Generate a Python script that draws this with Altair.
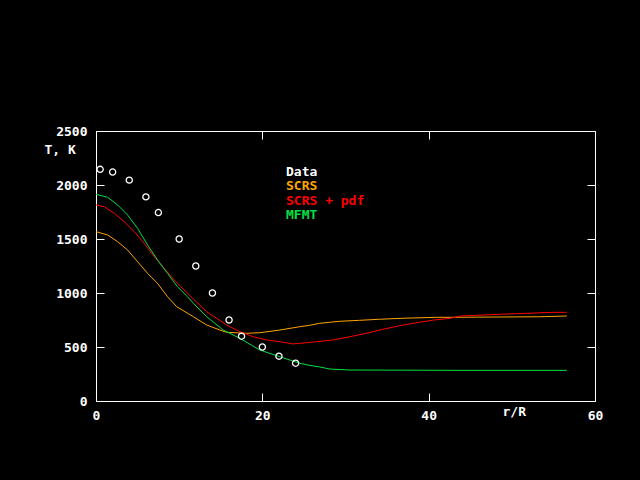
import altair as alt
import pandas as pd
from altair.utils.html import HTML_TEMPLATE

# ---- data ----
data_r = [0.5, 2, 4, 6, 7.5, 10, 12, 14, 16, 17.5, 20, 22, 24]
data_T = [2145, 2120, 2045, 1890, 1745, 1500, 1250, 1000, 750, 600, 500, 415, 350]

scrs_r = [0, 1.4, 2.6, 3.8, 5.0, 6.2, 7.4, 8.6, 9.7, 11.7, 13.3, 14.9, 15.7, 18.1, 19.7,
          22.1, 24.5, 25.7, 26.9, 28.1, 29.3, 31.7, 34.1, 36.9, 41.0, 42.6, 53.4, 56.6]
scrs_T = [1568, 1537, 1475, 1398, 1290, 1182, 1089, 966, 873, 781, 704, 657, 636, 627, 632,
          657, 688, 701, 719, 729, 738, 747, 757, 766, 775, 775, 780, 787]

pdf_r = [0, 1.0, 2.2, 3.4, 4.6, 5.8, 7.0, 8.2, 9.4, 10.6, 11.7, 13.3, 15.7, 17.3, 18.9,
         20.5, 22.1, 23.7, 24.5, 26.5, 28.5, 30.5, 32.5, 34.5, 36.5, 38.6, 40.6, 42.6,
         43.8, 48.6, 51.8, 55.0, 56.6]
pdf_T = [1815, 1799, 1738, 1660, 1568, 1460, 1336, 1229, 1120, 1028, 945, 827, 704, 642, 595,
         565, 549, 528, 534, 549, 565, 595, 627, 664, 697, 725, 750, 766,
         787, 803, 812, 821, 821]

mfmt_r = [0, 1.4, 2.6, 3.8, 5.0, 6.2, 7.4, 8.6, 9.8, 11.0, 11.7, 13.3, 15.3, 17.3, 19.7,
          22.1, 24.5, 25.7, 26.9, 28.1, 30.5, 42.6, 56.6]
mfmt_T = [1914, 1886, 1815, 1722, 1599, 1444, 1305, 1182, 1058, 966, 905, 781, 657, 580, 472,
          410, 349, 330, 315, 296, 287, 284, 284]

models = ["SCRS", "SCRS + pdf", "MFMT"]
model_colors = ["#FFA500", "#FF0000", "#00E040"]
legend_labels = ["Data", "SCRS", "SCRS + pdf", "MFMT"]
legend_colors = ["#FFFFFF", "#FFA500", "#FF0000", "#00E040"]

x_ticks = [0, 20, 40, 60]
y_ticks = [0, 500, 1000, 1500, 2000, 2500]

# ---- tables ----
rows = []
for name, rs, ts in zip(models, [scrs_r, pdf_r, mfmt_r], [scrs_T, pdf_T, mfmt_T]):
    for r, t in zip(rs, ts):
        rows.append({"model": name, "r": r, "T": t})
lines_df = pd.DataFrame(rows)
pts_df = pd.DataFrame({"r": data_r, "T": data_T})

FONT = "DejaVu Sans Mono"
xs = alt.Scale(domain=[0, 60], nice=False)
ys = alt.Scale(domain=[0, 2500], nice=False)

common = dict(domain=False, grid=False, ticks=True, tickSize=8, tickColor="white",
              tickWidth=1, offset=-8, labelColor="white", labelFont=FONT,
              labelFontSize=13, labelFontWeight="bold", titleColor="white",
              titleFont=FONT, titleFontSize=13, titleFontWeight="bold",
              labelFlush=False, labelOverlap=False, format="d")

bottom_axis = alt.Axis(orient="bottom", values=x_ticks, labelPadding=8, title="r/R",
                       titleAngle=0, titleAlign="left", titleBaseline="middle",
                       titleX=406, titleY=18.5, **common)
left_axis = alt.Axis(orient="left", values=y_ticks, labelPadding=9, title="T, K",
                     titleAngle=0, titleAlign="left", titleBaseline="middle",
                     titleX=-60, titleY=18, **common)
top_axis = alt.Axis(orient="top", values=x_ticks, labels=False, title=None, **common)
right_axis = alt.Axis(orient="right", values=y_ticks, labels=False, title=None, **common)

lines = alt.Chart(lines_df).mark_line(strokeWidth=1).encode(
    x=alt.X("r:Q", scale=xs, axis=bottom_axis),
    y=alt.Y("T:Q", scale=ys, axis=left_axis),
    color=alt.Color("model:N", scale=alt.Scale(domain=models, range=model_colors), legend=None),
    order=alt.Order("r:Q"),
)

points = alt.Chart(pts_df).mark_point(shape="circle", filled=False, color="white",
                                      size=38, strokeWidth=1.3, opacity=1).encode(
    x=alt.X("r:Q", scale=xs, axis=top_axis),
    y=alt.Y("T:Q", scale=ys, axis=right_axis),
)

legend_layers = []
for i, (lab, col) in enumerate(zip(legend_labels, legend_colors)):
    legend_layers.append(
        alt.Chart(pd.DataFrame({"t": [lab]})).mark_text(
            align="left", baseline="middle", font=FONT, fontSize=13, fontWeight="bold"
        ).encode(text="t:N", x=alt.value(190), y=alt.value(41 + 14.3 * i), color=alt.value(col))
    )

chart = alt.layer(lines, points, *legend_layers).resolve_axis(
    x="independent", y="independent"
).properties(
    width=499, height=270,
    padding={"left": 88, "top": 123, "right": 37, "bottom": 71},
    autosize=alt.AutoSizeParams(type="none"),
    background="black",
).configure_view(stroke="white", strokeWidth=1)


class _BlackPage:
    def render(self, **kw):
        html = HTML_TEMPLATE.render(**kw)
        return html.replace("<head>", "<head>\n<style>html,body{background:#000;}</style>", 1)


chart.save("out.html", embed_options={"renderer": "svg", "actions": False}, template=_BlackPage())
